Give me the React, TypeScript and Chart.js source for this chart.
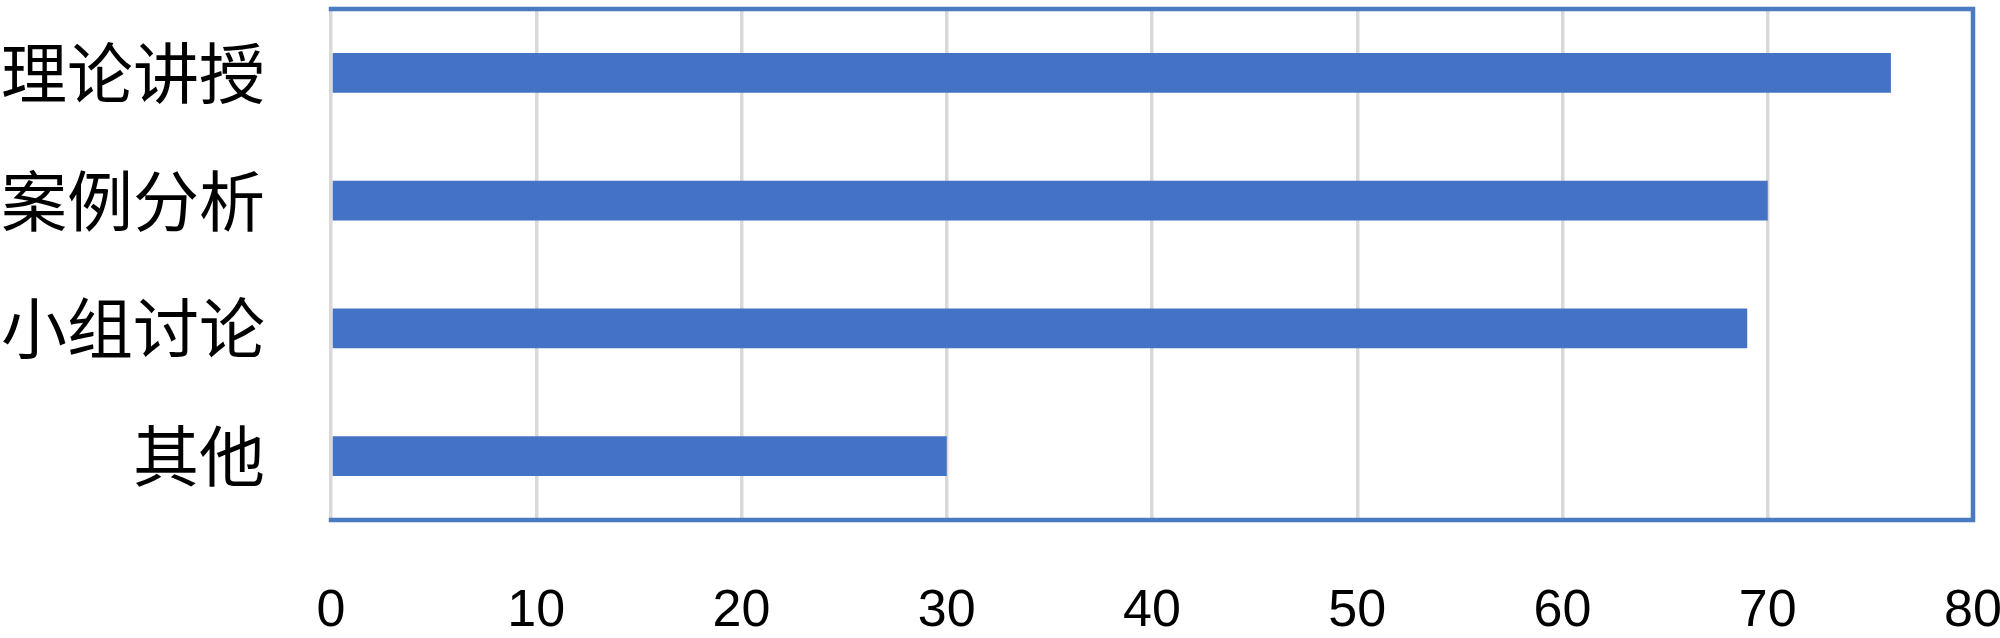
import React, { useEffect, useRef } from "react";
import { Chart, registerables } from "chart.js";

Chart.register(...registerables);

const categories = ["理论讲授", "案例分析", "小组讨论", "其他"];
const values = [76, 70, 69, 30];
const xTicks = [0, 10, 20, 30, 40, 50, 60, 70, 80];

const BAR_COLOR = "#4472C4";
const FRAME_COLOR = "#4A7BC0";
const GRID_COLOR = "#D9D9D9";

const framePlugin = {
  id: "frame",
  afterDatasetsDraw(chart: any) {
    const { ctx, chartArea } = chart;
    const { left, right, top, bottom } = chartArea;
    ctx.save();
    ctx.strokeStyle = FRAME_COLOR;
    ctx.lineWidth = 4.5;
    ctx.lineCap = "square";
    ctx.beginPath();
    ctx.moveTo(left, top);
    ctx.lineTo(right, top);
    ctx.lineTo(right, bottom);
    ctx.lineTo(left, bottom);
    ctx.stroke();
    ctx.restore();
  },
};

export default function App() {
  const ref = useRef<HTMLCanvasElement | null>(null);
  useEffect(() => {
    if (!ref.current) return;
    const chart = new Chart(ref.current, {
      type: "bar",
      data: {
        labels: categories,
        datasets: [
          {
            data: values,
            backgroundColor: BAR_COLOR,
            barPercentage: 0.313,
            categoryPercentage: 1,
          },
        ],
      },
      plugins: [framePlugin],
      options: {
        indexAxis: "y",
        animation: false,
        responsive: false,
        devicePixelRatio: 1,
        layout: { padding: { left: 0, right: 27, top: 9, bottom: 0 } },
        plugins: { legend: { display: false }, tooltip: { enabled: false } },
        scales: {
          x: {
            min: 0,
            max: 80,
            afterBuildTicks: (scale: any) => {
              scale.ticks = xTicks.map((v) => ({ value: v }));
            },
            afterFit: (scale: any) => {
              scale.height = 118;
              scale.paddingLeft = 0;
              scale.paddingRight = 0;
            },
            grid: { color: GRID_COLOR, lineWidth: 3.5, drawTicks: false },
            border: { display: false },
            ticks: {
              padding: 60,
              color: "#000",
              maxRotation: 0,
              autoSkip: false,
              font: { family: "'Liberation Sans', Arial, sans-serif", size: 52 },
            },
          },
          y: {
            afterFit: (scale: any) => {
              scale.width = 331;
              scale.paddingTop = 0;
              scale.paddingBottom = 0;
            },
            grid: { display: false, drawTicks: false },
            border: { display: false },
            ticks: {
              padding: 66,
              color: "#000",
              font: { family: "'Noto Sans CJK SC', sans-serif", size: 66 },
            },
          },
        },
      },
    });
    return () => chart.destroy();
  }, []);
  return (
    <canvas
      ref={ref}
      width={2000}
      height={638}
      style={{ position: "absolute", left: 0, top: 0, width: 2000, height: 638 }}
    />
  );
}
